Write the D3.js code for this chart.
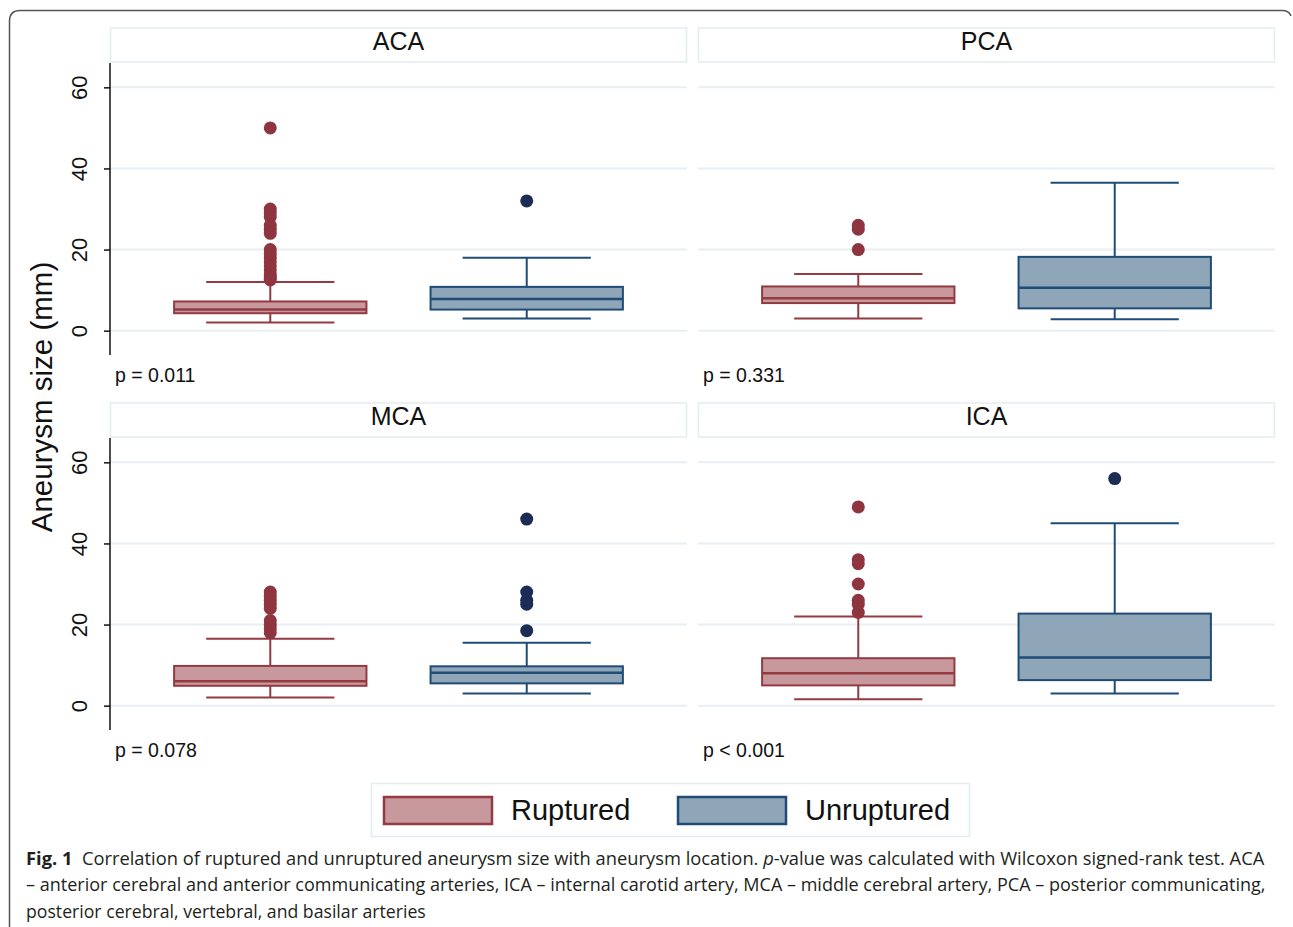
<!DOCTYPE html>
<html lang="en">
<head>
    <meta charset="UTF-8">
    <title>Aneurysm size by location</title>
    <script src="https://cdn.jsdelivr.net/npm/d3@7/dist/d3.min.js"></script>
    <style>
        body { margin: 0; background: #fff; }
    </style>
</head>
<body>
    <svg id="chart" width="1293" height="927"></svg>

    <script>
        // panel order: top-left, top-right, bottom-left, bottom-right
        const locations = ["ACA", "PCA", "MCA", "ICA"];
        const groups = ["Ruptured", "Unruptured"];
        const pLabels = ["p = 0.011", "p = 0.331", "p = 0.078", "p < 0.001"];
        const yTicks = [0, 20, 40, 60];

        // [lower adjacent, q1, median, q3, upper adjacent]
        const rupturedStats = [
            [2, 4.3, 5.2, 7.2, 12],
            [3, 6.8, 8, 10.9, 14],
            [2, 4.9, 6, 9.8, 16.5],
            [1.6, 5, 8, 11.7, 22]
        ];
        const unrupturedStats = [
            [3, 5.2, 7.8, 10.8, 18],
            [2.8, 5.5, 10.6, 18.2, 36.5],
            [3, 5.5, 8.1, 9.7, 15.5],
            [3, 6.3, 11.9, 22.7, 45]
        ];
        const rupturedOutliers = [
            [50, 30, 29, 28, 26, 25, 24, 20, 19, 18, 17, 16, 15, 14, 13.5, 13, 12.5],
            [26, 25, 20],
            [28, 27, 26, 25, 24, 21, 20, 19, 18],
            [49, 36, 35, 30, 26, 25, 23]
        ];
        const unrupturedOutliers = [
            [32],
            [],
            [46, 28, 26, 25, 18.5],
            [56]
        ];

        const captionLines = [
            ["Fig. 1", "  Correlation of ruptured and unruptured aneurysm size with aneurysm location. ", "p", "-value was calculated with Wilcoxon signed-rank test. ACA"],
            ["– anterior cerebral and anterior communicating arteries, ICA – internal carotid artery, MCA – middle cerebral artery, PCA – posterior communicating,"],
            ["posterior cerebral, vertebral, and basilar arteries"]
        ];

        const fill = { Ruptured: "#c8999c", Unruptured: "#8fa5b8" };
        const stroke = { Ruptured: "#933a43", Unruptured: "#1f4c75" };
        const dot = { Ruptured: "#8f3540", Unruptured: "#1c2c55" };
        const chartFont = "'Liberation Sans', Arial, Helvetica, sans-serif";

        const svg = d3.select("#chart");

        // outer frame of the figure
        svg.append("path")
            .attr("d", "M9.5,940 L9.5,21 Q9.5,10.5 20,10.5 L1282,10.5 Q1289,10.5 1291,16")
            .attr("fill", "none")
            .attr("stroke", "#555")
            .attr("stroke-width", 1.5);

        const panelW = 577;
        const panelX = [110, 698];
        const panelY = [0, 375];
        const headTop = 28, headH = 34;
        const plotTop = 63, plotH = 292;

        const x = d3.scaleBand()
            .domain(groups)
            .range([0, panelW])
            .paddingInner(0.25)
            .paddingOuter(0.25);

        const y = d3.scaleLinear()
            .domain([-6, 66])
            .range([plotTop + plotH, plotTop]);

        locations.forEach((loc, i) => {
            const px = panelX[i % 2];
            const py = panelY[Math.floor(i / 2)];
            const g = svg.append("g").attr("transform", `translate(${px},${py})`);

            // header strip
            g.append("rect")
                .attr("x", 0.5).attr("y", headTop)
                .attr("width", panelW - 1).attr("height", headH)
                .attr("fill", "#fff")
                .attr("stroke", "#e3ecef")
                .attr("stroke-width", 1.5);
            g.append("text")
                .attr("x", panelW / 2).attr("y", headTop + 22)
                .attr("text-anchor", "middle")
                .attr("font-family", chartFont)
                .attr("font-size", 25)
                .attr("fill", "#111")
                .text(loc);

            // grid
            g.selectAll(".grid").data(yTicks).join("line")
                .attr("x1", 0).attr("x2", panelW)
                .attr("y1", d => y(d)).attr("y2", d => y(d))
                .attr("stroke", "#e8eef1")
                .attr("stroke-width", 2);

            // y axis only in left column
            if (i % 2 === 0) {
                const ax = g.append("g")
                    .call(d3.axisLeft(y).tickValues(yTicks).tickSize(6).tickFormat(d3.format("d")));
                ax.attr("font-family", chartFont);
                ax.select(".domain").attr("d", `M0,${plotTop}V${plotTop + plotH}`)
                    .attr("stroke", "#111").attr("stroke-width", 1.5);
                ax.selectAll(".tick line").attr("stroke", "#111").attr("stroke-width", 1.5);
                ax.selectAll(".tick text")
                    .attr("font-family", chartFont)
                    .attr("font-size", 22)
                    .attr("fill", "#111")
                    .attr("x", null).attr("dy", null)
                    .attr("text-anchor", "middle")
                    .attr("transform", "translate(-23,0) rotate(-90)");
            }

            const stats = [rupturedStats[i], unrupturedStats[i]];
            const outs = [rupturedOutliers[i], unrupturedOutliers[i]];

            groups.forEach((grp, j) => {
                const [lo, q1, med, q3, hi] = stats[j];
                const bx = x(grp), bw = x.bandwidth(), cx = bx + bw / 2;
                const capW = bw * 2 / 3;
                const bg = g.append("g")
                    .attr("stroke", stroke[grp])
                    .attr("stroke-width", 2);

                bg.append("line").attr("x1", cx).attr("x2", cx).attr("y1", y(hi)).attr("y2", y(q3));
                bg.append("line").attr("x1", cx).attr("x2", cx).attr("y1", y(q1)).attr("y2", y(lo));
                bg.append("line").attr("x1", cx - capW / 2).attr("x2", cx + capW / 2).attr("y1", y(hi)).attr("y2", y(hi));
                bg.append("line").attr("x1", cx - capW / 2).attr("x2", cx + capW / 2).attr("y1", y(lo)).attr("y2", y(lo));
                bg.append("rect")
                    .attr("x", bx).attr("y", y(q3))
                    .attr("width", bw).attr("height", y(q1) - y(q3))
                    .attr("fill", fill[grp]);
                bg.append("line").attr("x1", bx).attr("x2", bx + bw).attr("y1", y(med)).attr("y2", y(med))
                    .attr("stroke-width", 2.5);

                g.selectAll(null).data(outs[j]).join("circle")
                    .attr("cx", cx)
                    .attr("cy", d => y(d))
                    .attr("r", 6.5)
                    .attr("fill", dot[grp]);
            });

            g.append("text")
                .attr("x", 5).attr("y", 382)
                .attr("font-family", chartFont)
                .attr("font-size", 19.5)
                .attr("fill", "#111")
                .text(pLabels[i]);
        });

        // y axis title
        svg.append("text")
            .attr("transform", "translate(52,397) rotate(-90)")
            .attr("text-anchor", "middle")
            .attr("font-family", chartFont)
            .attr("font-size", 29.5)
            .attr("fill", "#111")
            .text("Aneurysm size (mm)");

        // legend
        const leg = svg.append("g");
        leg.append("rect")
            .attr("x", 371.5).attr("y", 783.5)
            .attr("width", 598).attr("height", 53)
            .attr("fill", "#fff")
            .attr("stroke", "#e3ecef")
            .attr("stroke-width", 1.5);
        const legX = [384, 678];
        groups.forEach((grp, j) => {
            leg.append("rect")
                .attr("x", legX[j]).attr("y", 797)
                .attr("width", 108).attr("height", 27)
                .attr("fill", fill[grp])
                .attr("stroke", stroke[grp])
                .attr("stroke-width", 2.5);
            leg.append("text")
                .attr("x", legX[j] + 127).attr("y", 820)
                .attr("font-family", chartFont)
                .attr("font-size", 29)
                .attr("fill", "#111")
                .text(grp);
        });

        // caption
        const capWidths = [1239, 1240, null];
        const capY = [865, 891, 918];
        captionLines.forEach((parts, k) => {
            const t = svg.append("text")
                .attr("x", 26).attr("y", capY[k])
                .attr("font-family", "'Open Sans', 'Noto Sans', sans-serif")
                .attr("font-size", 17.5)
                .attr("fill", "#231f20")
                .attr("xml:space", "preserve");
            parts.forEach((s, m) => {
                const ts = t.append("tspan").text(s);
                if (k === 0 && m === 0) ts.attr("font-weight", "bold");
                if (k === 0 && m === 2) ts.attr("font-style", "italic");
            });
            const w = capWidths[k] || 400;
            const actual = t.node().getComputedTextLength();
            const sx = w / actual;
            t.attr("transform", `translate(26,0) scale(${sx},1) translate(-26,0)`);
        });
    </script>
</body>
</html>
